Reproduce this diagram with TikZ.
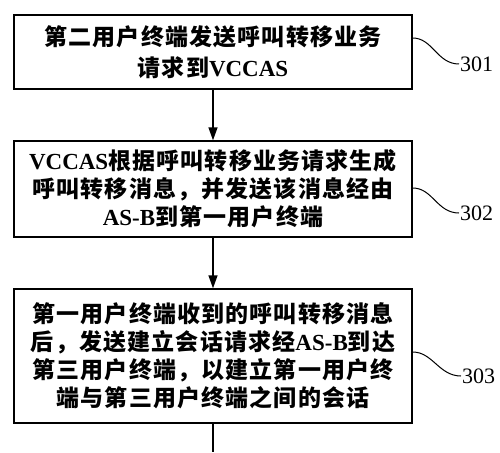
\documentclass[tikz,border=0pt]{standalone}
\usepackage{fontspec}
\setmainfont{Liberation Serif}
\newfontfamily\cjk[LetterSpace=5]{Noto Sans CJK SC}
\newcommand{\zh}[1]{{\cjk #1}}
\usetikzlibrary{arrows.meta,calc,positioning}

\begin{document}
\begin{tikzpicture}[
  x=1pt, y=-1pt,
  step box/.style={draw=black, line width=1.4pt, fill=white,
             text width=392pt, align=center, minimum width=398pt,
             inner sep=0pt, font=\bfseries\fontsize{23}{28}\selectfont},
  arr/.style={-{Triangle[length=13pt,width=9pt]}, line width=1.4pt},
  lead/.style={line width=1pt},
  num/.style={font=\fontsize{22}{24}\selectfont, inner sep=1pt, anchor=west},
]
\useasboundingbox (0,0) rectangle (500,452);

% ---- steps ----
\node[step box, minimum height=74pt, font=\bfseries\fontsize{23}{31}\selectfont] (s301) at (213,52)
  {\zh{第二用户终端发送呼叫转移业务}\\\zh{请求到}VCCAS};
\node[step box, minimum height=96pt] (s302) at (213,189)
  {VCCAS\zh{根据呼叫转移业务请求生成}\\\zh{呼叫转移消息，并发送该消息经由}\\AS-B\zh{到第一用户终端}};
\node[step box, minimum height=134pt] (s303) at (213,356)
  {\zh{第一用户终端收到的呼叫转移消息}\\\zh{后，发送建立会话请求经}\mbox{AS-B}\zh{到达}\\\zh{第三用户终端，以建立第一用户终}\\\zh{端与第三用户终端之间的会话}};

% ---- labels ----
\node[num] (n301) at (459,64)  {301};
\node[num] (n302) at (459,213) {302};
\node[num] (n303) at (461,376) {303};

% ---- edges ----
\draw[arr] (s301.south) -- (s302.north);
\draw[arr] (s302.south) -- (s303.north);
\coordinate (cont) at (213,452);
\draw[line width=1.4pt] (s303.south) -- (cont);

% ---- leader lines ----
\draw[lead] ([yshift=14pt]s301.east) .. controls +(20,0) and +(-22,0) .. (n301.west);
\draw[lead] ([yshift=1pt]s302.east)  .. controls +(20,0) and +(-22,0) .. (n302.west);
\draw[lead] ([yshift=4pt]s303.east)  .. controls +(20,0) and +(-22,0) .. (n303.west);
\end{tikzpicture}
\end{document}
